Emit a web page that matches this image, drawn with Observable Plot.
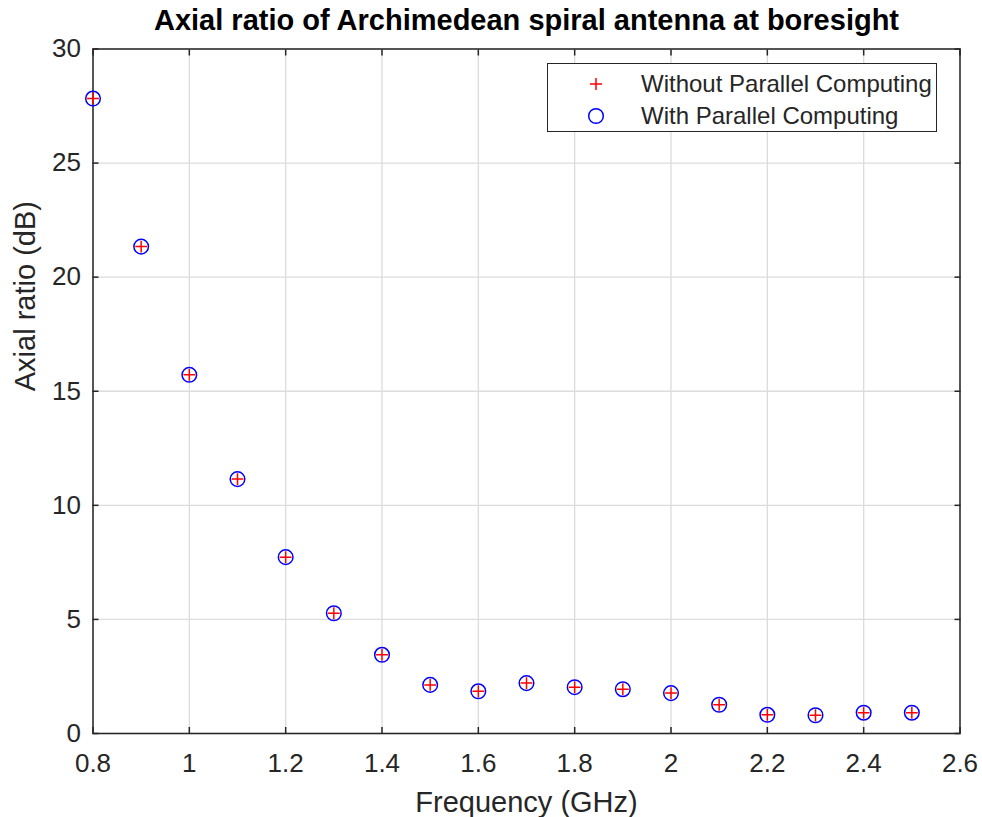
<!DOCTYPE html>
<html>
<head>
<meta charset="utf-8">
<script src="https://cdn.jsdelivr.net/npm/d3@7"></script>
<script src="https://cdn.jsdelivr.net/npm/@observablehq/plot@0.6"></script>
<style>
  html, body { margin: 0; padding: 0; background: #fff; }
  #wrap { position: relative; width: 982px; height: 817px; font-family: "Liberation Sans", Arial, sans-serif; }
  #legend { position: absolute; left: 547px; top: 63px; width: 388px; height: 67px;
    border: 1.5px solid #262626; background: #fff; box-sizing: content-box; }
  .item { position: absolute; left: 0; height: 32px; display: flex; align-items: center; font-size: 24px; color: #262626; }
  .item svg { margin-left: 37px; margin-right: 34px; }
</style>
</head>
<body>
<div id="wrap"></div>
<script>
const frequency = [0.8, 0.9, 1.0, 1.1, 1.2, 1.3, 1.4, 1.5, 1.6, 1.7, 1.8, 1.9, 2.0, 2.1, 2.2, 2.3, 2.4, 2.5];
const arWithout = [27.83, 21.34, 15.72, 11.15, 7.73, 5.27, 3.45, 2.13, 1.85, 2.21, 2.03, 1.94, 1.77, 1.26, 0.82, 0.80, 0.91, 0.91];
const arWith    = [27.83, 21.34, 15.72, 11.15, 7.73, 5.27, 3.45, 2.13, 1.85, 2.21, 2.03, 1.94, 1.77, 1.26, 0.82, 0.80, 0.91, 0.91];
const xTicks = [0.8, 1.0, 1.2, 1.4, 1.6, 1.8, 2.0, 2.2, 2.4, 2.6];
const yTicks = [0, 5, 10, 15, 20, 25, 30];
const seriesNames = ["Without Parallel Computing", "With Parallel Computing"];
const titleText = "Axial ratio of Archimedean spiral antenna at boresight";
const xLabel = "Frequency (GHz)";
const yLabel = "Axial ratio (dB)";

const dataWithout = frequency.map((f, i) => ({f, v: arWithout[i]}));
const dataWith = frequency.map((f, i) => ({f, v: arWith[i]}));

const axisColor = "#262626";
const tickFmt = d => String(+d.toFixed(1));

const chart = Plot.plot({
  width: 982,
  height: 817,
  marginLeft: 92.5,
  marginRight: 22.5,
  marginTop: 48.5,
  marginBottom: 84,
  style: {fontFamily: "'Liberation Sans', Arial, sans-serif", color: axisColor, background: "#fff", overflow: "visible"},
  x: {domain: [0.8, 2.6]},
  y: {domain: [0, 30]},
  marks: [
    Plot.gridX(xTicks, {stroke: "#dcdcdc", strokeOpacity: 1, strokeWidth: 1.3}),
    Plot.gridY(yTicks, {stroke: "#dcdcdc", strokeOpacity: 1, strokeWidth: 1.3}),
    // inward ticks on all four sides
    Plot.axisX(xTicks, {anchor: "bottom", tickSize: 6, dy: -6, text: null, stroke: axisColor, strokeWidth: 1.5, label: null}),
    Plot.axisX(xTicks, {anchor: "top", tickSize: 6, dy: 6, text: null, stroke: axisColor, strokeWidth: 1.5, label: null}),
    Plot.axisY(yTicks, {anchor: "left", tickSize: 6, dx: 6, text: null, stroke: axisColor, strokeWidth: 1.5, label: null}),
    Plot.axisY(yTicks, {anchor: "right", tickSize: 6, dx: -6, text: null, stroke: axisColor, strokeWidth: 1.5, label: null}),
    // tick labels
    Plot.axisX(xTicks, {anchor: "bottom", tickSize: 0, tickPadding: 20, tickFormat: tickFmt, fontSize: 26, fill: axisColor, label: null}),
    Plot.axisY(yTicks, {anchor: "left", tickSize: 0, tickPadding: 12, tickFormat: d => String(d), fontSize: 26, fill: axisColor, label: null}),
    Plot.frame({stroke: axisColor, strokeWidth: 1.5}),
    // data
    Plot.dot(dataWith, {x: "f", y: "v", r: 7.3, stroke: "#0000ff", strokeWidth: 1.5, fill: "none"}),
    Plot.dot(dataWithout, {x: "f", y: "v", r: 3.9, symbol: "plus", stroke: "#ff0000", strokeWidth: 1.5}),
    // axis titles & title
    Plot.text([xLabel], {frameAnchor: "bottom", dy: 78, lineAnchor: "bottom", fontSize: 29, fill: axisColor}),
    Plot.text([yLabel], {frameAnchor: "left", dx: -58, rotate: -90, lineAnchor: "bottom", fontSize: 29, fill: axisColor}),
    Plot.text([titleText], {frameAnchor: "top", dy: -19, lineAnchor: "bottom", fontSize: 29, fontWeight: "bold", fill: "#000"})
  ]
});

const wrap = document.getElementById("wrap");
wrap.appendChild(chart);

// legend overlay
const legend = document.createElement("div");
legend.id = "legend";
const sym = [
  `<svg width="22" height="22" viewBox="-11 -11 22 22"><path d="M-6,0H6M0,-6V6" stroke="#ff0000" stroke-width="1.5" fill="none"/></svg>`,
  `<svg width="22" height="22" viewBox="-11 -11 22 22"><circle r="7.3" stroke="#0000ff" stroke-width="1.5" fill="none"/></svg>`
];
seriesNames.forEach((name, i) => {
  const it = document.createElement("div");
  it.className = "item";
  it.style.top = (4 + i * 32) + "px";
  it.innerHTML = sym[i] + `<span>${name}</span>`;
  legend.appendChild(it);
});
wrap.appendChild(legend);
</script>
</body>
</html>
